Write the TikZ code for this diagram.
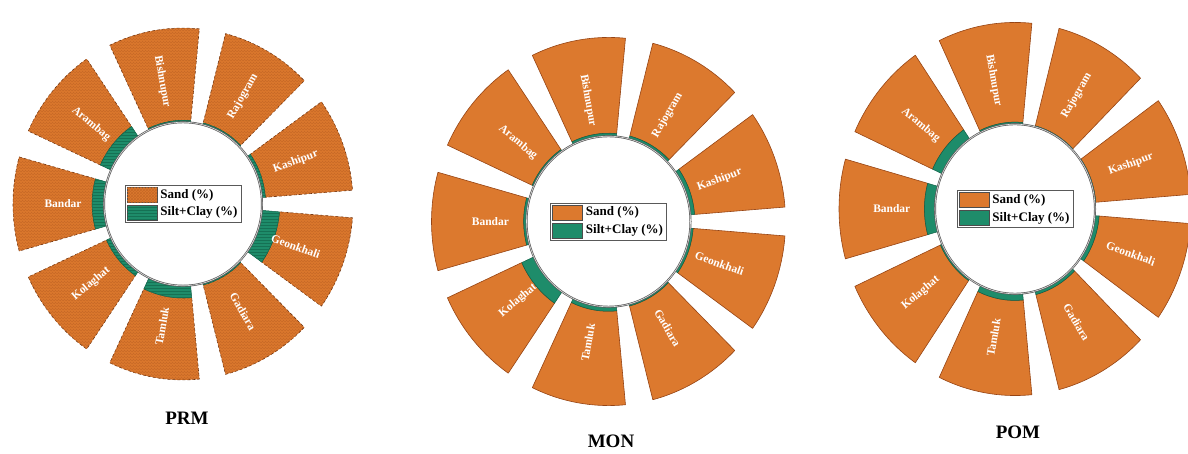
\documentclass[tikz,border=0pt]{standalone}
\usepackage{fontspec}
\setmainfont{Liberation Serif}
\usetikzlibrary{patterns}

\definecolor{sand}{RGB}{220,121,46}
\definecolor{sanddark}{RGB}{150,68,20}
\definecolor{silt}{RGB}{30,140,106}
\definecolor{siltdark}{RGB}{15,95,70}
\definecolor{ringgray}{RGB}{90,90,90}

\tikzstyle{sandpart} = [fill=sand, draw=sanddark, line width=0.6pt, line join=round]
\tikzstyle{siltpart} = [fill=silt, draw=siltdark, line width=0.5pt, line join=round]
\tikzstyle{texsand} = [postaction={pattern=crosshatch, pattern color=sanddark!30!sand}]
\tikzstyle{texsilt} = [postaction={pattern=horizontal lines, pattern color=siltdark!60!silt}]
\tikzstyle{roughedge} = [densely dashed, draw=sanddark!70!black]
\tikzstyle{sitename} = [text=white, font=\bfseries\fontsize{11.5}{12}\selectfont, inner sep=0pt]
\tikzstyle{core} = [fill=white, draw=ringgray, line width=0.7pt, double=gray!25, double distance=0.6pt]
\tikzstyle{legbox} = [draw=gray!70!black, line width=0.6pt, fill=white, minimum width=116pt, minimum height=37pt, inner sep=0pt]
\tikzstyle{swatch} = [draw=gray!60!black, line width=0.5pt, minimum width=30pt, minimum height=15pt, inner sep=0pt]
\tikzstyle{legtext} = [anchor=west, font=\bfseries\fontsize{13}{14}\selectfont, inner sep=0pt]
\tikzstyle{panel} = [font=\bfseries\fontsize{19}{20}\selectfont]

\begin{document}
\begin{tikzpicture}[x=1pt, y=1pt]
\useasboundingbox (0,0) rectangle (1188,454);

% PRM
\begin{scope}[shift={(183,250)}, yscale=1.035,
  sandlook/.style={sandpart, texsand, roughedge}, siltlook/.style={siltpart, texsilt}]
\def\rin{79}\def\rout{170}\def\lpos{0.45}
\foreach \ang/\silt/\site in {180/13/Bandar, 140/13/Arambag, 100/2/Bishnupur, 60/2/Rajogram, 20/4/Kashipur, -20/19.5/Geonkhali, -60/2/Gadiara, -100/13/Tamluk, -140/5.5/Kolaghat}{
  \pgfmathsetmacro\rmid{\rin+\silt*(\rout-\rin)/100}
  \pgfmathsetmacro\rlab{\rin+\lpos*(\rout-\rin)}
  \pgfmathsetmacro\lrot{(\ang > 90 || \ang < -90) ? \ang-180 : \ang}
  \draw[sandlook] (\ang-15.5:\rmid pt) arc[start angle=\ang-15.5, end angle=\ang+15.5, radius=\rmid pt]
    -- (\ang+15.5:\rout pt) arc[start angle=\ang+15.5, end angle=\ang-15.5, radius=\rout pt] -- cycle;
  \draw[siltlook] (\ang-15.5:\rin pt) arc[start angle=\ang-15.5, end angle=\ang+15.5, radius=\rin pt]
    -- (\ang+15.5:\rmid pt) arc[start angle=\ang+15.5, end angle=\ang-15.5, radius=\rmid pt] -- cycle;
  \node[sitename, rotate=\lrot] (prm-\site) at (\ang:\rlab pt) {\site};
}
\draw[core] (0,0) circle[radius=\rin pt];
\node[legbox] (prmleg) at (0,0) {};
\node[swatch, fill=sand, texsand] (prmsand) at (-41,8.5) {};
\node[swatch, fill=silt, texsilt] (prmsilt) at (-41,-8.5) {};
\node[legtext] at ([xshift=3pt]prmsand.east) {Sand (\%)};
\node[legtext] at ([xshift=3pt]prmsilt.east) {Silt+Clay (\%)};
\end{scope}
\node[panel] (prmtitle) at (187,36) {PRM};

% MON
\begin{scope}[shift={(608.5,232.5)}, yscale=1.04,
  sandlook/.style={sandpart}, siltlook/.style={siltpart}]
\def\rin{82}\def\rout{177}\def\lpos{0.38}
\foreach \ang/\silt/\site in {180/3/Bandar, 140/2/Arambag, 100/3/Bishnupur, 60/3/Rajogram, 20/4.5/Kashipur, -20/3/Geonkhali, -60/2/Gadiara, -100/4.5/Tamluk, -140/14/Kolaghat}{
  \pgfmathsetmacro\rmid{\rin+\silt*(\rout-\rin)/100}
  \pgfmathsetmacro\rlab{\rin+\lpos*(\rout-\rin)}
  \pgfmathsetmacro\lrot{(\ang > 90 || \ang < -90) ? \ang-180 : \ang}
  \draw[sandlook] (\ang-15.5:\rmid pt) arc[start angle=\ang-15.5, end angle=\ang+15.5, radius=\rmid pt]
    -- (\ang+15.5:\rout pt) arc[start angle=\ang+15.5, end angle=\ang-15.5, radius=\rout pt] -- cycle;
  \draw[siltlook] (\ang-15.5:\rin pt) arc[start angle=\ang-15.5, end angle=\ang+15.5, radius=\rin pt]
    -- (\ang+15.5:\rmid pt) arc[start angle=\ang+15.5, end angle=\ang-15.5, radius=\rmid pt] -- cycle;
  \node[sitename, rotate=\lrot] (mon-\site) at (\ang:\rlab pt) {\site};
}
\draw[core] (0,0) circle[radius=\rin pt];
\node[legbox] (monleg) at (0,0) {};
\node[swatch, fill=sand] (monsand) at (-41,8.5) {};
\node[swatch, fill=silt] (monsilt) at (-41,-8.5) {};
\node[legtext] at ([xshift=3pt]monsand.east) {Sand (\%)};
\node[legtext] at ([xshift=3pt]monsilt.east) {Silt+Clay (\%)};
\end{scope}
\node[panel] (montitle) at (611,13) {MON};

% POM
\begin{scope}[shift={(1015,245)}, yscale=1.06,
  sandlook/.style={sandpart}, siltlook/.style={siltpart}]
\def\rin{80}\def\rout{176}\def\lpos{0.45}
\foreach \ang/\silt/\site in {180/11/Bandar, 140/11/Arambag, 100/2/Bishnupur, 60/1/Rajogram, 20/1/Kashipur, -20/4.5/Geonkhali, -60/3.5/Gadiara, -100/6.5/Tamluk, -140/2/Kolaghat}{
  \pgfmathsetmacro\rmid{\rin+\silt*(\rout-\rin)/100}
  \pgfmathsetmacro\rlab{\rin+\lpos*(\rout-\rin)}
  \pgfmathsetmacro\lrot{(\ang > 90 || \ang < -90) ? \ang-180 : \ang}
  \draw[sandlook] (\ang-15.5:\rmid pt) arc[start angle=\ang-15.5, end angle=\ang+15.5, radius=\rmid pt]
    -- (\ang+15.5:\rout pt) arc[start angle=\ang+15.5, end angle=\ang-15.5, radius=\rout pt] -- cycle;
  \draw[siltlook] (\ang-15.5:\rin pt) arc[start angle=\ang-15.5, end angle=\ang+15.5, radius=\rin pt]
    -- (\ang+15.5:\rmid pt) arc[start angle=\ang+15.5, end angle=\ang-15.5, radius=\rmid pt] -- cycle;
  \node[sitename, rotate=\lrot] (pom-\site) at (\ang:\rlab pt) {\site};
}
\draw[core] (0,0) circle[radius=\rin pt];
\node[legbox] (pomleg) at (0,0) {};
\node[swatch, fill=sand] (pomsand) at (-41,8.5) {};
\node[swatch, fill=silt] (pomsilt) at (-41,-8.5) {};
\node[legtext] at ([xshift=3pt]pomsand.east) {Sand (\%)};
\node[legtext] at ([xshift=3pt]pomsilt.east) {Silt+Clay (\%)};
\end{scope}
\node[panel] (pomtitle) at (1018,22) {POM};
\end{tikzpicture}
\end{document}
